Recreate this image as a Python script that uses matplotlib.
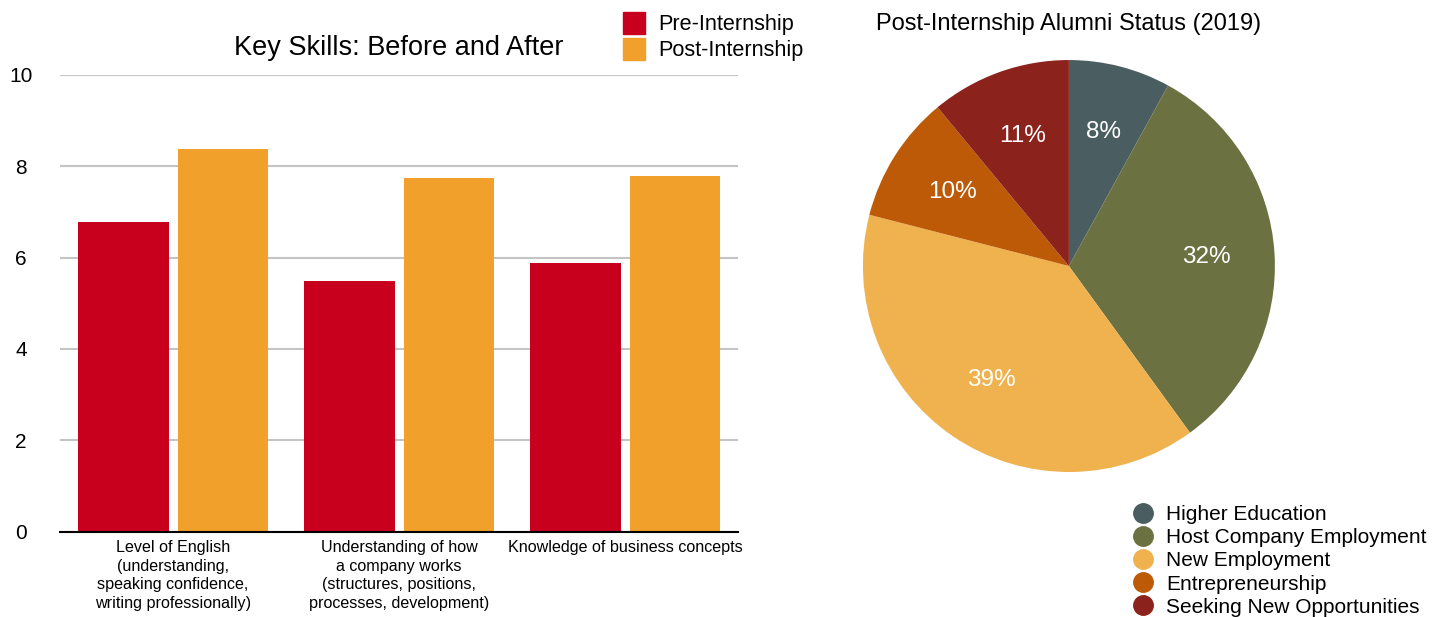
import matplotlib.pyplot as plt
import numpy as np
from matplotlib.patches import Patch
from matplotlib.lines import Line2D

plt.rcParams['font.family'] = ['Liberation Sans', 'DejaVu Sans']

# bar chart data
skills = ["Level of English\n(understanding,\nspeaking confidence,\nwriting professionally)",
          "Understanding of how\na company works\n(structures, positions,\nprocesses, development)",
          "Knowledge of business concepts"]
pre = [6.78, 5.48, 5.87]
post = [8.37, 7.73, 7.78]

# pie chart data
status = ["Higher Education", "Host Company Employment", "New Employment",
          "Entrepreneurship", "Seeking New Opportunities"]
shares = [8, 32, 39, 10, 11]
pie_colors = ["#4a5e62", "#6b7140", "#efb24f", "#bc5a07", "#8b221b"]

red = "#c8001e"
orange = "#f0a02b"

fig = plt.figure(figsize=(14.43, 6.17), dpi=100)

# --- bar chart ---
ax = fig.add_axes([0.0416, 0.138, 0.4699, 0.741])
x = np.arange(len(skills))
ax.bar(x - 0.22, pre, width=0.40, color=red, zorder=3)
ax.bar(x + 0.22, post, width=0.40, color=orange, zorder=3)
ax.set_xlim(-0.5, 2.5)
ax.set_ylim(0, 10)
ax.set_yticks([0, 2, 4, 6, 8, 10])
ax.yaxis.grid(True, color="#c4c4c4", linewidth=1.5, zorder=0)
ax.set_xticks(x)
ax.set_xticklabels(skills, fontsize=11.6, linespacing=1.3)
ax.tick_params(axis='x', length=0, pad=6)
ax.tick_params(axis='y', length=0, pad=28, labelsize=15)
for lbl in ax.get_yticklabels():
    lbl.set_horizontalalignment('center')
for s in ['top', 'right', 'left']:
    ax.spines[s].set_visible(False)
ax.spines['bottom'].set_linewidth(1.5)
ax.spines['bottom'].set_zorder(4)
ax.set_title("Key Skills: Before and After", fontsize=19.5, pad=14)

fig.legend(handles=[Patch(color=red, label="Pre-Internship"),
                    Patch(color=orange, label="Post-Internship")],
           loc='upper left', bbox_to_anchor=(0.4255, 0.995), frameon=False,
           fontsize=15.6, handlelength=1.05, handleheight=1.2,
           handletextpad=0.6, labelspacing=0.12, borderaxespad=0)

# --- pie chart ---
pax = fig.add_axes([0.598, 0.235, 0.2855, 0.6677])
wedges, texts, autotexts = pax.pie(shares, colors=pie_colors, startangle=90,
                                   counterclock=False, autopct='%d%%',
                                   pctdistance=0.67,
                                   textprops=dict(color='white', fontsize=17.5))
pax.set_xlim(-1, 1)
pax.set_ylim(-1, 1)
pax.set_aspect('equal')
fig.text(0.7408, 0.961, "Post-Internship Alumni Status (2019)", ha='center',
         va='center', fontsize=17)

handles = [Line2D([], [], marker='o', linestyle='none', markersize=14,
                  markerfacecolor=c, markeredgecolor=c, label=l)
           for c, l in zip(pie_colors, status)]
fig.legend(handles=handles, loc='upper left', bbox_to_anchor=(0.779, 0.195),
           frameon=False, fontsize=15, handlelength=1.0, handletextpad=0.6,
           labelspacing=0.2, borderaxespad=0)

fig.savefig("out.png", dpi=100)
